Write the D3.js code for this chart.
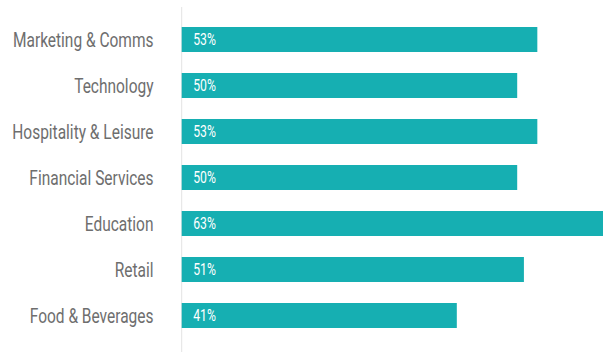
<!DOCTYPE html>
<html>
<head>
<meta charset="utf-8">
<script src="https://cdn.jsdelivr.net/npm/d3@7"></script>
<style>
  html, body { margin: 0; padding: 0; background: #ffffff; }
  svg { display: block; }
  text { font-family: Roboto, "DejaVu Sans", sans-serif; }
</style>
</head>
<body>
<svg id="chart" width="603" height="358"></svg>
<script>
// Share of respondents by industry
const categories = ["Marketing & Comms", "Technology", "Hospitality & Leisure", "Financial Services", "Education", "Retail", "Food & Beverages"];
const values = [53, 50, 53, 50, 63, 51, 41];
const valueLabels = ["53%", "50%", "53%", "50%", "63%", "51%", "41%"];

const chartW = 603, chartH = 358;
const baseX = 181.7;          // left edge of the bars / baseline
const svg = d3.select("#chart");

const x = d3.scaleLinear().domain([0, 63]).range([baseX, baseX + 63 * 6.71]);
const gap = 21 / 46;
const y = d3.scaleBand()
  .domain(categories)
  .range([16.5, 338.5])
  .paddingInner(gap)
  .paddingOuter(gap / 2);

const teal = "#16afb2";

// vertical baseline
svg.append("line")
  .attr("x1", baseX).attr("x2", baseX)
  .attr("y1", 7).attr("y2", 352)
  .attr("stroke", "#e3e3e3").attr("stroke-width", 1);

// bars
svg.selectAll("rect.bar")
  .data(values)
  .join("rect")
  .attr("class", "bar")
  .attr("x", x(0))
  .attr("y", (d, i) => y(categories[i]))
  .attr("width", d => x(d) - x(0))
  .attr("height", y.bandwidth())
  .attr("fill", teal);

// category labels (condensed look via horizontal scaling)
const labelScale = 0.775;
svg.selectAll("text.cat")
  .data(categories)
  .join("text")
  .attr("class", "cat")
  .attr("text-anchor", "end")
  .attr("font-size", 20)
  .attr("fill", "#6e6e6e")
  .attr("transform", d => `translate(153.5, ${y(d) + y.bandwidth() / 2 + 7}) scale(${labelScale},1)`)
  .text(d => d);

// value labels inside bars
const valScale = 0.74;
svg.selectAll("text.val")
  .data(valueLabels)
  .join("text")
  .attr("class", "val")
  .attr("font-size", 16.5)
  .attr("fill", "#ffffff")
  .attr("transform", (d, i) => `translate(${x(0) + 11.5}, ${y(categories[i]) + y.bandwidth() / 2 + 5.8}) scale(${valScale},1)`)
  .text(d => d);
</script>
</body>
</html>
